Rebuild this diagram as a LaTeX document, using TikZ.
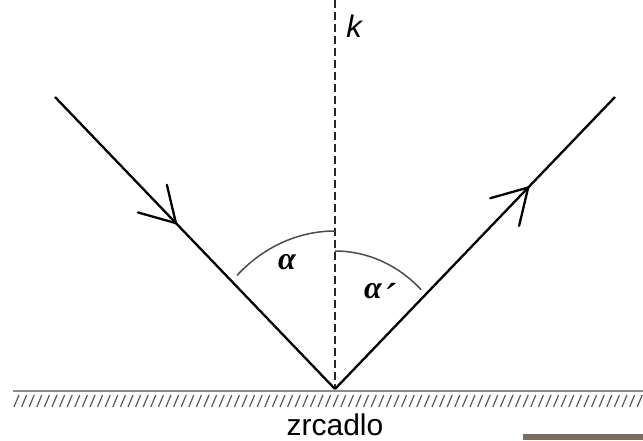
\documentclass[tikz,border=0pt]{standalone}
\usepackage{fontspec}
\setmainfont{Liberation Sans}
\newfontfamily\grk{Liberation Serif}
\usetikzlibrary{decorations.markings}
\tikzset{
  ray/.style={line width=2.3pt, black},
  vee/.style={postaction={decorate}, decoration={markings,
      mark=at position #1 with {\draw[line width=2.3pt, line join=miter, line cap=round] (-34pt,20pt) -- (0,0) -- (-34pt,-20pt);}}},
  normal/.style={line width=1.8pt, dash pattern=on 8pt off 4pt, black!85},
  anglearc/.style={line width=1.5pt, black!70},
  mirror/.style={line width=2.2pt, black!45},
  hatch/.style={line width=1.2pt, black!65},
  lbl/.style={font=\fontsize{30}{32}\selectfont, inner sep=0pt},
  greek/.style={font=\grk\bfseries\itshape\fontsize{32}{34}\selectfont, inner sep=0pt}
}
\begin{document}
\begin{tikzpicture}[x=1pt,y=1pt]
  \useasboundingbox[fill=white] (0,0) rectangle (643,440);
  % mirror
  \coordinate (ML) at (13,49);
  \coordinate (MR) at (643,49);
  \draw[mirror] (ML) -- (MR);
  \foreach \x in {14,21.6,...,640} {
    \draw[hatch] (\x,33) -- ++(5,12);
  }
  % points
  \coordinate (O) at (335,51);
  \coordinate (A) at (55,343);
  \coordinate (B) at (615,343);
  \coordinate (K) at (335,440);
  % normal
  \draw[normal] (K) -- (O);
  % rays
  \draw[ray, vee=0.432] (A) -- (O);
  \draw[ray, vee=0.69] (O) -- (B);
  % angle arcs
  \draw[anglearc] (O) ++(134:141 and 158) arc[start angle=134, end angle=90, x radius=141, y radius=158];
  \draw[anglearc] (O) ++(90:124 and 138) arc[start angle=90, end angle=46, x radius=124, y radius=138];
  % labels
  \node[lbl, font=\itshape\fontsize{31}{33}\selectfont] (k) at (354,414) {k};
  \node[lbl, anchor=base] (z) at (335,5) {zrcadlo};
  \node[greek] (a1) at (287,178) {α};
  \node[greek, anchor=base west] (a2) at (364,142) {α\hspace{3pt}\raisebox{-14pt}{\mdseries\upshape\fontsize{42}{44}\selectfont ´}};
  % stray strip at bottom right
  \fill[fill={rgb,255:red,125;green,108;blue,98}] (523,0) rectangle (643,6);
\end{tikzpicture}
\end{document}
